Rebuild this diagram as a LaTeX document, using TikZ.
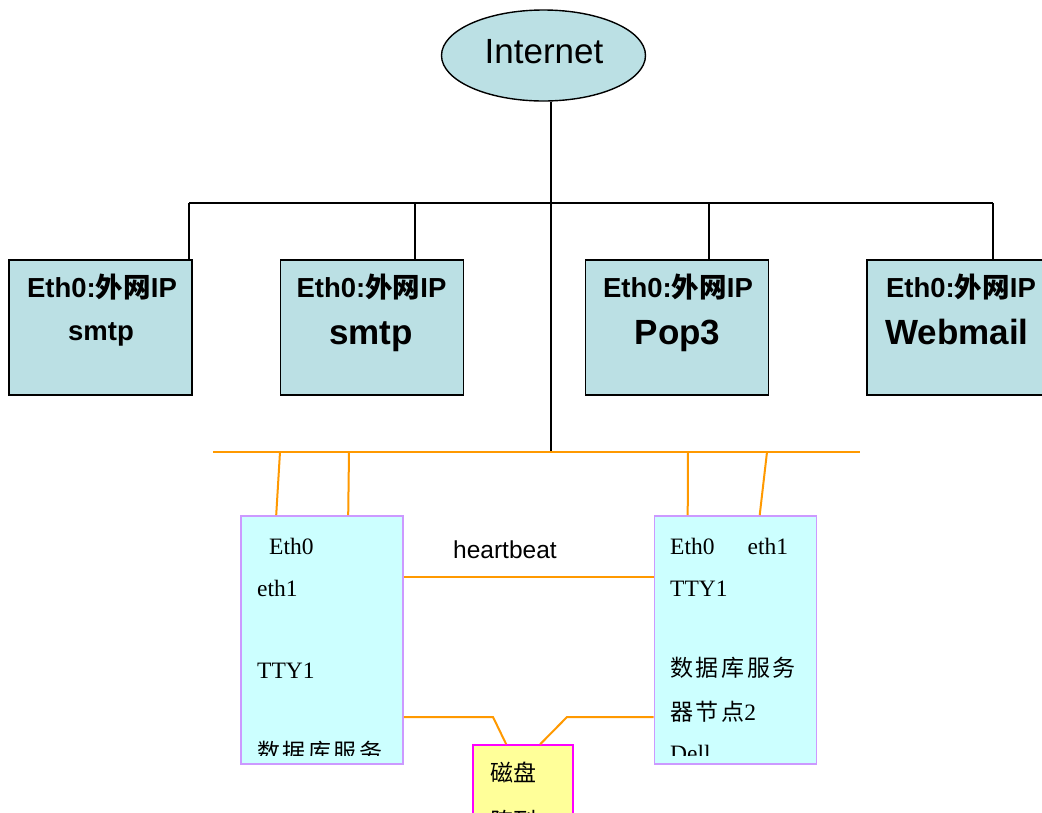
\documentclass[tikz,border=0pt]{standalone}
\usepackage{fontspec}
\setmainfont{Liberation Serif}
\setsansfont{Liberation Sans}
\newfontfamily\cjk{Noto Sans CJK SC}
\usetikzlibrary{shapes.geometric,calc}
\definecolor{boxteal}{RGB}{187,224,228}
\definecolor{dbfill}{RGB}{204,255,255}
\definecolor{dbedge}{RGB}{204,153,255}
\definecolor{orangeln}{RGB}{255,153,0}
\definecolor{diskfill}{RGB}{255,255,153}
\definecolor{diskedge}{RGB}{255,0,255}
\newcommand\ethip{Eth0:{\cjk 外网}IP}
\tikzset{
  blackln/.style={draw=black, line width=1.4pt},
  orln/.style={draw=orangeln, line width=2pt},
  srv/.style={draw=black, line width=1.4pt, fill=boxteal, minimum width=183pt, minimum height=135pt, inner sep=0pt},
  dbbox/.style={draw=dbedge, line width=1.6pt, fill=dbfill, minimum width=162pt, minimum height=248pt, inner sep=0pt},
  diskbox/.style={draw=diskedge, line width=1.6pt, fill=diskfill, minimum width=100pt, minimum height=100pt, inner sep=0pt},
  cloud/.style={ellipse, draw=black, line width=1.4pt, fill=boxteal, minimum width=204pt, minimum height=91pt, inner sep=0pt},
  lbl/.style={inner sep=0pt, anchor=base},
  hd/.style={lbl, font=\sffamily\bfseries\fontsize{27.5}{30}\selectfont},
  big/.style={lbl, font=\sffamily\bfseries\fontsize{35}{40}\selectfont},
  ser/.style={inner sep=0pt, anchor=base west, font=\fontsize{23.5}{28}\selectfont},
  zh/.style={inner sep=0pt, anchor=base west, font=\cjk\fontsize{23}{28}\selectfont},
}
\newcommand\zsp{\kern2.6pt}
\begin{document}
\begin{tikzpicture}[x=1pt,y=-1pt]
\clip (0,0) rectangle (1042,812);
\fill[white] (0,0) rectangle (1042,812);

% Internet
\node[cloud] (ie) at (543.5,55.5) {};
\node[lbl, font=\sffamily\fontsize{35}{40}\selectfont] (ietxt) at (544,63) {Internet};

% top servers
\node[srv] (b1) at (100.5,327.5) {};
\node[srv] (b2) at (372,327.5) {};
\node[srv] (b3) at (677,327.5) {};
\node[srv] (b4) at (958.5,327.5) {};
\node[hd] (b1a) at (102,297) {\ethip};
\node[hd] (b1b) at (101,340) {smtp};
\node[hd] (b2a) at (371.5,297) {\ethip};
\node[big] (b2b) at (371,344) {smtp};
\node[hd] (b3a) at (678,297) {\ethip};
\node[big] (b3b) at (677.5,344) {Pop3};
\node[hd] (b4a) at (961,297) {\ethip};
\node[big] (b4b) at (957,344) {Webmail};

% black tree
\coordinate (t1) at (189,203);
\coordinate (t2) at (415,203);
\coordinate (tm) at (551,203);
\coordinate (t3) at (709,203);
\coordinate (t4) at (993,203);
\coordinate (bm) at (551,452);
\draw[blackln] (ie.south -| tm) -- (bm);
\draw[blackln] (t1) -- (t4);
\draw[blackln] (t1) -- (t1 |- b1.north);
\draw[blackln] (t2) -- (t2 |- b2.north);
\draw[blackln] (t3) -- (t3 |- b3.north);
\draw[blackln] (t4) -- (t4 |- b4.north);

% orange bus
\coordinate (oL) at (213,452);
\coordinate (oR) at (860,452);
\draw[orln] (oL) -- (oR);

% db boxes
\node[dbbox] (dbl) at (322,640) {};
\node[dbbox] (dbr) at (735.5,640) {};
\node[diskbox] (disk) at (523,795) {};

\coordinate (a1) at (280,452);
\coordinate (a2) at (349,452);
\coordinate (a3) at (688,452);
\coordinate (a4) at (767,452);
\draw[orln] (a1) -- ($(dbl.north west)+(36,0)$);
\draw[orln] (a2) -- ($(dbl.north west)+(108,0)$);
\draw[orln] (a3) -- ($(dbr.north west)+(34,0)$);
\draw[orln] (a4) -- ($(dbr.north west)+(106,0)$);

% heartbeat
\coordinate (hb) at (403,577);
\draw[orln] (hb -| dbl.east) -- (hb -| dbr.west);
\node[inner sep=0pt, anchor=base west, font=\sffamily\fontsize{24.5}{28}\selectfont] (hbt) at (453,558) {heartbeat};

% disk connections
\coordinate (dk) at (0,717);
\draw[orln] (dk -| dbl.east) -- (493,717) -- ($(disk.north west)+(34,0)$);
\draw[orln] (dk -| dbr.west) -- (567,717) -- ($(disk.north west)+(68,0)$);

% left db text
\begin{scope}
\clip (241,516) rectangle (403,755);
\node[ser] (l1) at (269,554) {Eth0};
\node[ser] (l2) at (257,596) {eth1};
\node[ser] (l3) at (257,678) {TTY1};
\node[zh] (l4) at (257,760) {数\zsp 据\zsp 库\zsp 服\zsp 务};
\end{scope}

% right db text
\begin{scope}
\clip (655,516) rectangle (816,755);
\node[ser] (r1) at (670,554) {Eth0\hspace{33pt}eth1};
\node[ser] (r2) at (670,596) {TTY1};
\node[zh] (r3) at (670,676) {数\zsp 据\zsp 库\zsp 服\zsp 务};
\node[zh] (r4) at (670,720) {器\zsp 节\zsp 点{\fontsize{23.5}{28}\rmfamily 2}};
\node[ser] (r5) at (670,761.5) {Dell};
\end{scope}

% disk text
\node[zh] (d1) at (490,781) {磁盘};
\node[zh] (d2) at (490,829) {阵列};
\end{tikzpicture}
\end{document}
